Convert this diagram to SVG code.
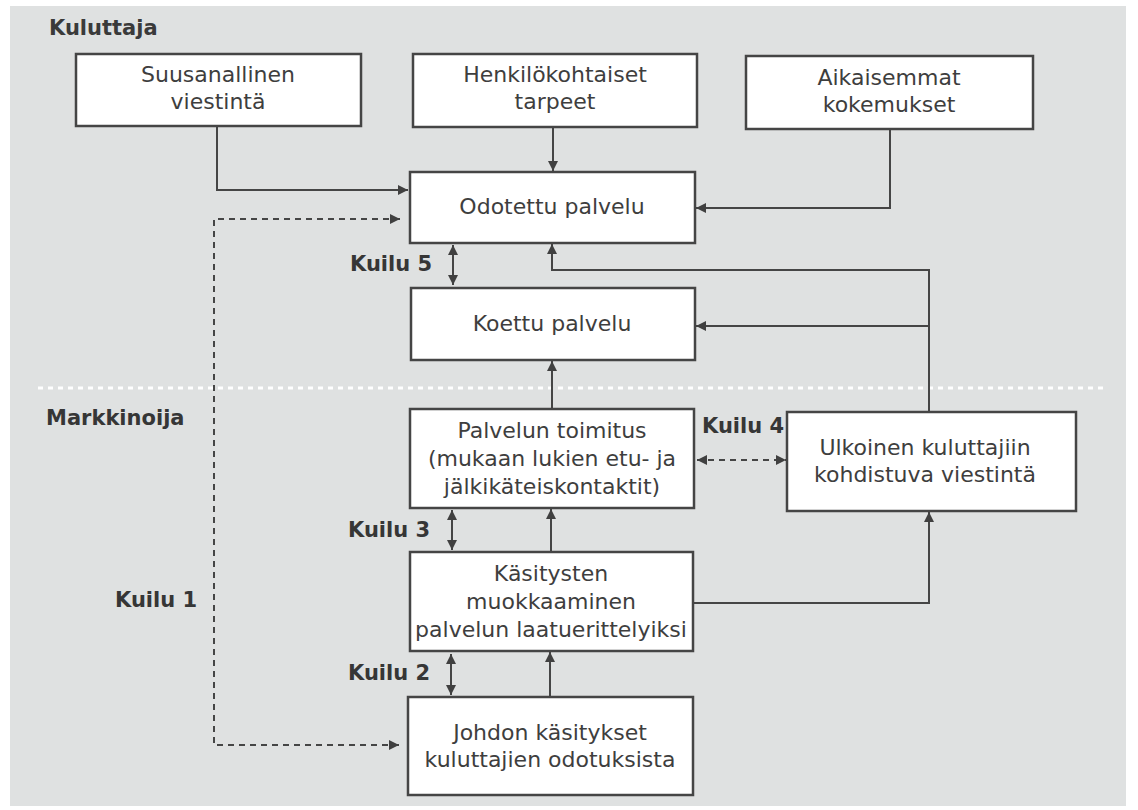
<svg xmlns="http://www.w3.org/2000/svg" width="1138" height="810" viewBox="0 0 1138 810">
<style>
.box{fill:#ffffff;stroke:#454545;stroke-width:2.5}
.t{font-family:"DejaVu Sans","Open Sans",sans-serif;font-size:22px;fill:#3e3e3e;text-anchor:middle}
.lbl{font-family:"DejaVu Sans","Open Sans",sans-serif;font-size:21px;font-weight:bold;fill:#363636}
.c{fill:none;stroke:#454545;stroke-width:2}
.d{fill:none;stroke:#454545;stroke-width:2;stroke-dasharray:6 5}
</style>
<defs>
<marker id="ah" viewBox="0 0 10 10" refX="10" refY="5" markerWidth="11" markerHeight="10" markerUnits="userSpaceOnUse" orient="auto-start-reverse">
<path d="M0,0 L10,5 L0,10 z" fill="#404040"/>
</marker>
</defs>
<rect x="0" y="0" width="1138" height="810" fill="#ffffff"/>
<rect x="10" y="6" width="1116" height="800" fill="#dfe1e1"/>
<line x1="38" y1="388" x2="1104" y2="388" stroke="#ffffff" stroke-width="3" stroke-dasharray="5 5"/>

<text class="lbl" x="49" y="35" style="fill:#3a3a3a">Kuluttaja</text>
<text class="lbl" x="46" y="425">Markkinoija</text>

<g id="connectors">
<path class="c" d="M217,126 V190 H408" marker-end="url(#ah)"/>
<path class="c" d="M553,127 V171" marker-end="url(#ah)"/>
<path class="c" d="M890,129 V208 H696" marker-end="url(#ah)"/>
<path class="c" d="M929,412 V270 H552 V244" marker-end="url(#ah)"/>
<path class="c" d="M929,326 H696" marker-end="url(#ah)"/>
<path class="c" d="M693,603 H929 V512" marker-end="url(#ah)"/>
<path class="c" d="M552,409 V361" marker-end="url(#ah)"/>
<path class="c" d="M551,552 V509" marker-end="url(#ah)"/>
<path class="c" d="M550,697 V652" marker-end="url(#ah)"/>
<path class="c" d="M453,245 V285" marker-start="url(#ah)" marker-end="url(#ah)"/>
<path class="c" d="M452,510 V550" marker-start="url(#ah)" marker-end="url(#ah)"/>
<path class="c" d="M451,654 V695" marker-start="url(#ah)" marker-end="url(#ah)"/>
<path class="d" d="M400,219 H214 V745 H399" marker-start="url(#ah)" marker-end="url(#ah)"/>
<path class="d" d="M697,460 H786" marker-start="url(#ah)" marker-end="url(#ah)"/>
</g>

<text class="lbl" x="350" y="271">Kuilu 5</text>
<text class="lbl" x="348" y="537">Kuilu 3</text>
<text class="lbl" x="348" y="680">Kuilu 2</text>
<text class="lbl" x="115" y="607">Kuilu 1</text>
<text class="lbl" x="702" y="433">Kuilu 4</text>

<g id="suusanallinen">
<rect class="box" x="76" y="54" width="285" height="72"/>
<text class="t" x="218" y="82">Suusanallinen</text>
<text class="t" x="218" y="109">viestintä</text>
</g>
<g id="henkilokohtaiset">
<rect class="box" x="413" y="54" width="284" height="73"/>
<text class="t" x="555" y="82">Henkilökohtaiset</text>
<text class="t" x="555" y="109">tarpeet</text>
</g>
<g id="aikaisemmat">
<rect class="box" x="746" y="56" width="287" height="73"/>
<text class="t" x="889" y="85">Aikaisemmat</text>
<text class="t" x="889" y="112">kokemukset</text>
</g>
<g id="odotettu">
<rect class="box" x="410" y="172" width="285" height="71"/>
<text class="t" x="552" y="214">Odotettu palvelu</text>
</g>
<g id="koettu">
<rect class="box" x="411" y="288" width="284" height="72"/>
<text class="t" x="552" y="331">Koettu palvelu</text>
</g>
<g id="toimitus">
<rect class="box" x="410" y="409" width="284" height="99"/>
<text class="t" x="552" y="438">Palvelun toimitus</text>
<text class="t" x="552" y="466">(mukaan lukien etu- ja</text>
<text class="t" x="552" y="494">jälkikäteiskontaktit)</text>
</g>
<g id="kasitysten">
<rect class="box" x="410" y="552" width="283" height="99"/>
<text class="t" x="551" y="581">Käsitysten</text>
<text class="t" x="551" y="609">muokkaaminen</text>
<text class="t" x="551" y="637">palvelun laatuerittelyiksi</text>
</g>
<g id="johdon">
<rect class="box" x="408" y="697" width="285" height="98"/>
<text class="t" x="550" y="740">Johdon käsitykset</text>
<text class="t" x="550" y="767">kuluttajien odotuksista</text>
</g>
<g id="ulkoinen">
<rect class="box" x="787" y="412" width="289" height="99"/>
<text class="t" x="925" y="455">Ulkoinen kuluttajiin</text>
<text class="t" x="925" y="482">kohdistuva viestintä</text>
</g>
</svg>
